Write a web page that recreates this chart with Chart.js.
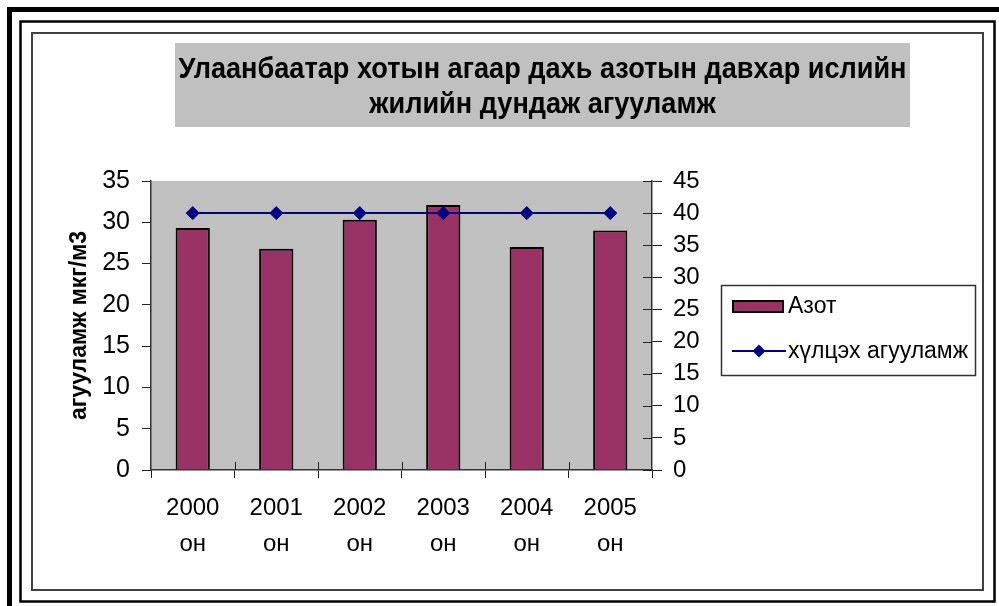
<!DOCTYPE html>
<html lang="mn">
<head>
<meta charset="UTF-8">
<title>Азотын давхар исэл</title>
<script src="https://cdn.jsdelivr.net/npm/chart.js"></script>
<style>
  html, body { margin: 0; padding: 0; background: #fff; }
  #wrap { width: 999px; height: 606px; }
</style>
</head>
<body>
<div id="wrap"><canvas id="chart" width="999" height="606"></canvas></div>
<script>
// data
const years = [['2000', 'он'], ['2001', 'он'], ['2002', 'он'], ['2003', 'он'], ['2004', 'он'], ['2005', 'он']];
const azot = [29.3, 26.8, 30.3, 32.1, 27.0, 29.0];
const limitValues = [40, 40, 40, 40, 40, 40];
const titleLines = ['Улаанбаатар хотын агаар дахь азотын давхар ислийн', 'жилийн дундаж агууламж'];
const yTitle = 'агууламж мкг/м3';
const leftMax = 35, rightMax = 45, tickStep = 5;

const FONT = '"Liberation Sans", Arial, sans-serif';
const GRAY = '#c0c0c0';

// frames, title box, plot background
const backdrop = {
  id: 'backdrop',
  beforeDraw(chart) {
    const ctx = chart.ctx, a = chart.chartArea;
    ctx.save();
    ctx.fillStyle = '#fff';
    ctx.fillRect(0, 0, chart.width, chart.height);
    ctx.fillStyle = '#000';
    ctx.fillRect(7, 7, 992, 5);
    ctx.fillRect(7, 7, 5, 599);
    ctx.strokeStyle = '#000';
    ctx.lineWidth = 2.5;
    ctx.strokeRect(20.5, 21.5, 974, 580);
    ctx.strokeStyle = '#404040';
    ctx.lineWidth = 2;
    ctx.strokeRect(32, 33, 951, 557);
    // title
    ctx.fillStyle = GRAY;
    ctx.fillRect(175, 43, 735, 84);
    ctx.fillStyle = '#000';
    ctx.font = 'bold 30px ' + FONT;
    const w = ctx.measureText(titleLines[0]).width;
    const sx = 728 / w;
    ctx.textAlign = 'center';
    ctx.textBaseline = 'alphabetic';
    [78, 113].forEach((y, i) => {
      ctx.save();
      ctx.translate(542.5, y);
      ctx.scale(sx, 1);
      ctx.fillText(titleLines[i], 0, 0);
      ctx.restore();
    });
    // plot area
    ctx.fillStyle = GRAY;
    ctx.fillRect(a.left, a.top, a.right - a.left, a.bottom - a.top);
    ctx.restore();
  }
};

// inner halves of the crossing tick marks + legend
const extras = {
  id: 'extras',
  afterDraw(chart) {
    const ctx = chart.ctx, a = chart.chartArea;
    const x = chart.scales.x, y1 = chart.scales.y1;
    ctx.save();
    ctx.strokeStyle = '#222';
    ctx.lineWidth = 1;
    ctx.beginPath();
    const half = (x.getPixelForValue(1) - x.getPixelForValue(0)) / 2;
    for (let i = 1; i < years.length; i++) {
      const px = Math.round(x.getPixelForValue(i) - half) + 0.5;
      ctx.moveTo(px, a.bottom);
      ctx.lineTo(px, a.bottom - 8);
    }
    y1.ticks.forEach(t => {
      const py = Math.round(y1.getPixelForValue(t.value)) + 0.5;
      ctx.moveTo(a.right, py);
      ctx.lineTo(a.right - 9, py);
    });
    ctx.stroke();

    // legend
    const ds = chart.data.datasets;
    const bar = ds.find(d => d.type === 'bar');
    const line = ds.find(d => d.type === 'line');
    ctx.fillStyle = '#fff';
    ctx.fillRect(721, 285, 254, 90);
    ctx.strokeStyle = '#333';
    ctx.lineWidth = 1.5;
    ctx.strokeRect(721.5, 285.5, 254, 90);
    ctx.fillStyle = bar.backgroundColor;
    ctx.fillRect(733, 301, 50, 11);
    ctx.strokeStyle = '#000';
    ctx.lineWidth = 2;
    ctx.strokeRect(733, 301, 50, 11);
    ctx.strokeStyle = line.borderColor;
    ctx.lineWidth = 2;
    ctx.beginPath();
    ctx.moveTo(732, 351);
    ctx.lineTo(786, 351);
    ctx.stroke();
    ctx.fillStyle = line.pointBackgroundColor;
    ctx.beginPath();
    ctx.moveTo(759, 344.5);
    ctx.lineTo(765.5, 351);
    ctx.lineTo(759, 357.5);
    ctx.lineTo(752.5, 351);
    ctx.closePath();
    ctx.fill();
    ctx.fillStyle = '#000';
    ctx.font = '23px ' + FONT;
    ctx.textAlign = 'left';
    ctx.textBaseline = 'alphabetic';
    ctx.fillText(bar.label, 788, 313);
    ctx.fillText(line.label, 788, 358);
    ctx.restore();
  }
};

new Chart(document.getElementById('chart'), {
  data: {
    labels: years,
    datasets: [
      {
        type: 'line',
        label: 'хүлцэх агууламж',
        data: limitValues,
        yAxisID: 'y1',
        borderColor: '#000080',
        borderWidth: 2,
        pointStyle: 'rectRot',
        pointRadius: 6.5,
        pointBackgroundColor: '#000080',
        pointBorderColor: '#000080',
        pointBorderWidth: 1,
        tension: 0,
        fill: false,
        order: 1
      },
      {
        type: 'bar',
        label: 'Азот',
        data: azot,
        yAxisID: 'y',
        backgroundColor: '#993366',
        borderColor: '#000',
        borderWidth: 2,
        barPercentage: 0.41,
        categoryPercentage: 1,
        order: 2
      }
    ]
  },
  options: {
    responsive: false,
    animation: false,
    layout: { padding: { top: 181, left: 0, right: 0, bottom: 0 } },
    plugins: {
      legend: { display: false },
      title: { display: false },
      tooltip: { enabled: false }
    },
    scales: {
      x: {
        type: 'category',
        offset: true,
        grid: { offset: true, drawOnChartArea: false, drawTicks: true, tickLength: 8, color: '#222' },
        border: { color: '#333', width: 1.5 },
        ticks: { color: '#000', font: { family: FONT, size: 24, lineHeight: 1.5 }, padding: 12, maxRotation: 0, autoSkip: false },
        afterFit(s) { s.height = 136; }
      },
      y: {
        position: 'left',
        min: 0, max: leftMax,
        grid: { drawOnChartArea: false, tickLength: 9, color: '#222' },
        border: { color: '#333', width: 1.5 },
        ticks: { stepSize: tickStep, color: '#000', font: { family: FONT, size: 25 }, padding: 12 },
        title: { display: true, text: yTitle, color: '#000', font: { family: FONT, size: 23, weight: 'bold' }, padding: { top: 66, bottom: 0 } },
        afterFit(s) { s.width = 151; }
      },
      y1: {
        position: 'right',
        min: 0, max: rightMax,
        grid: { drawOnChartArea: false, tickLength: 10, color: '#222' },
        border: { color: '#333', width: 1.5 },
        ticks: { stepSize: tickStep, color: '#000', font: { family: FONT, size: 24 }, padding: 11 },
        afterFit(s) { s.width = 347; }
      }
    }
  },
  plugins: [backdrop, extras]
});
</script>
</body>
</html>
